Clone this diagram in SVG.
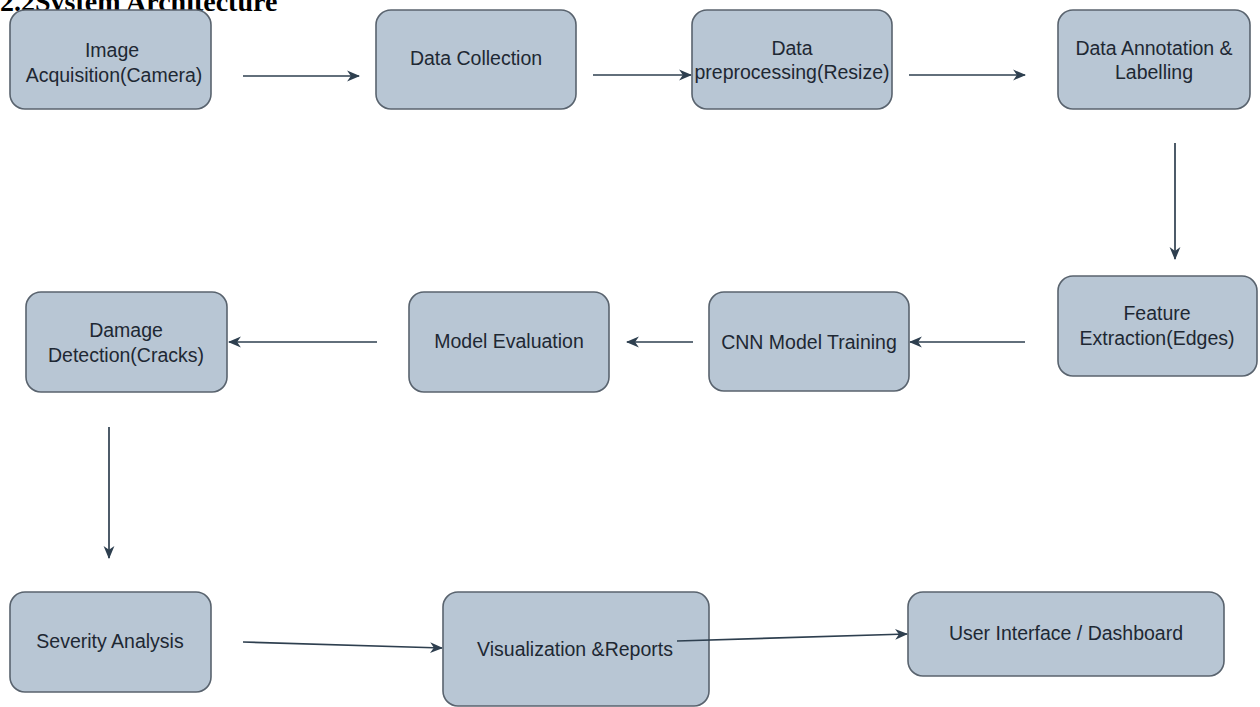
<svg xmlns="http://www.w3.org/2000/svg" width="1260" height="707" viewBox="0 0 1260 707">
<defs>
<style>
.box{fill:#b8c6d4;stroke:#59636e;stroke-width:1.6}
.lbl{font-family:"Liberation Sans",Arial,sans-serif;font-size:19.5px;fill:#1e2833;text-anchor:middle}
.edge{stroke:#2e3f4f;stroke-width:1.7;fill:none;marker-end:url(#ah)}
.title{font-family:"Liberation Serif","Times New Roman",serif;font-weight:bold;font-size:28px;fill:#000}
</style>
<marker id="ah" viewBox="0 0 12 12" refX="11" refY="6" markerWidth="13" markerHeight="13" markerUnits="userSpaceOnUse" orient="auto">
<path d="M0,1 L12,6 L0,11 L3.5,6 z" fill="#2e3f4f"/>
</marker>
</defs>
<rect width="1260" height="707" fill="#fff"/>
<text class="title" x="0" y="11">2.2System Architecture</text>
<g id="connectors">
<line class="edge" x1="243" y1="76" x2="359" y2="76"/>
<line class="edge" x1="593" y1="75" x2="691" y2="75"/>
<line class="edge" x1="909" y1="75" x2="1025" y2="75"/>
<line class="edge" x1="1175" y1="143" x2="1175" y2="259"/>
<line class="edge" x1="1025" y1="342" x2="910" y2="342"/>
<line class="edge" x1="693" y1="342" x2="627" y2="342"/>
<line class="edge" x1="377" y1="342" x2="229" y2="342"/>
<line class="edge" x1="109" y1="427" x2="109" y2="558"/>
<line class="edge" x1="243" y1="642" x2="442" y2="648"/>
</g>
<g id="n1"><rect class="box" x="10" y="10" width="201" height="99" rx="15"/><text class="lbl" x="112" y="57">Image</text><text class="lbl" x="114" y="82">Acquisition(Camera)</text></g>
<g id="n2"><rect class="box" x="376" y="10" width="200" height="99" rx="15"/><text class="lbl" x="476" y="65">Data Collection</text></g>
<g id="n3"><rect class="box" x="692" y="10" width="200" height="99" rx="15"/><text class="lbl" x="792" y="55">Data</text><text class="lbl" x="792" y="79">preprocessing(Resize)</text></g>
<g id="n4"><rect class="box" x="1058" y="10" width="192" height="99" rx="15"/><text class="lbl" x="1154" y="55">Data Annotation &amp;</text><text class="lbl" x="1154" y="79">Labelling</text></g>
<g id="n5"><rect class="box" x="1058" y="276" width="199" height="100" rx="15"/><text class="lbl" x="1157" y="320">Feature</text><text class="lbl" x="1157" y="345">Extraction(Edges)</text></g>
<g id="n6"><rect class="box" x="709" y="292" width="200" height="99" rx="15"/><text class="lbl" x="809" y="349">CNN Model Training</text></g>
<g id="n7"><rect class="box" x="409" y="292" width="200" height="100" rx="15"/><text class="lbl" x="509" y="348">Model Evaluation</text></g>
<g id="n8"><rect class="box" x="26" y="292" width="201" height="100" rx="15"/><text class="lbl" x="126" y="337">Damage</text><text class="lbl" x="126" y="362">Detection(Cracks)</text></g>
<g id="n9"><rect class="box" x="10" y="592" width="201" height="100" rx="15"/><text class="lbl" x="110" y="648">Severity Analysis</text></g>
<g id="n10"><rect class="box" x="443" y="592" width="266" height="114" rx="15"/><text class="lbl" x="575" y="656">Visualization &amp;Reports</text></g>
<g id="n11"><rect class="box" x="908" y="592" width="316" height="84" rx="15"/><text class="lbl" x="1066" y="640">User Interface / Dashboard</text></g>
<g id="connectors-over">
<line class="edge" x1="677" y1="641" x2="907" y2="634"/>
</g>
</svg>
